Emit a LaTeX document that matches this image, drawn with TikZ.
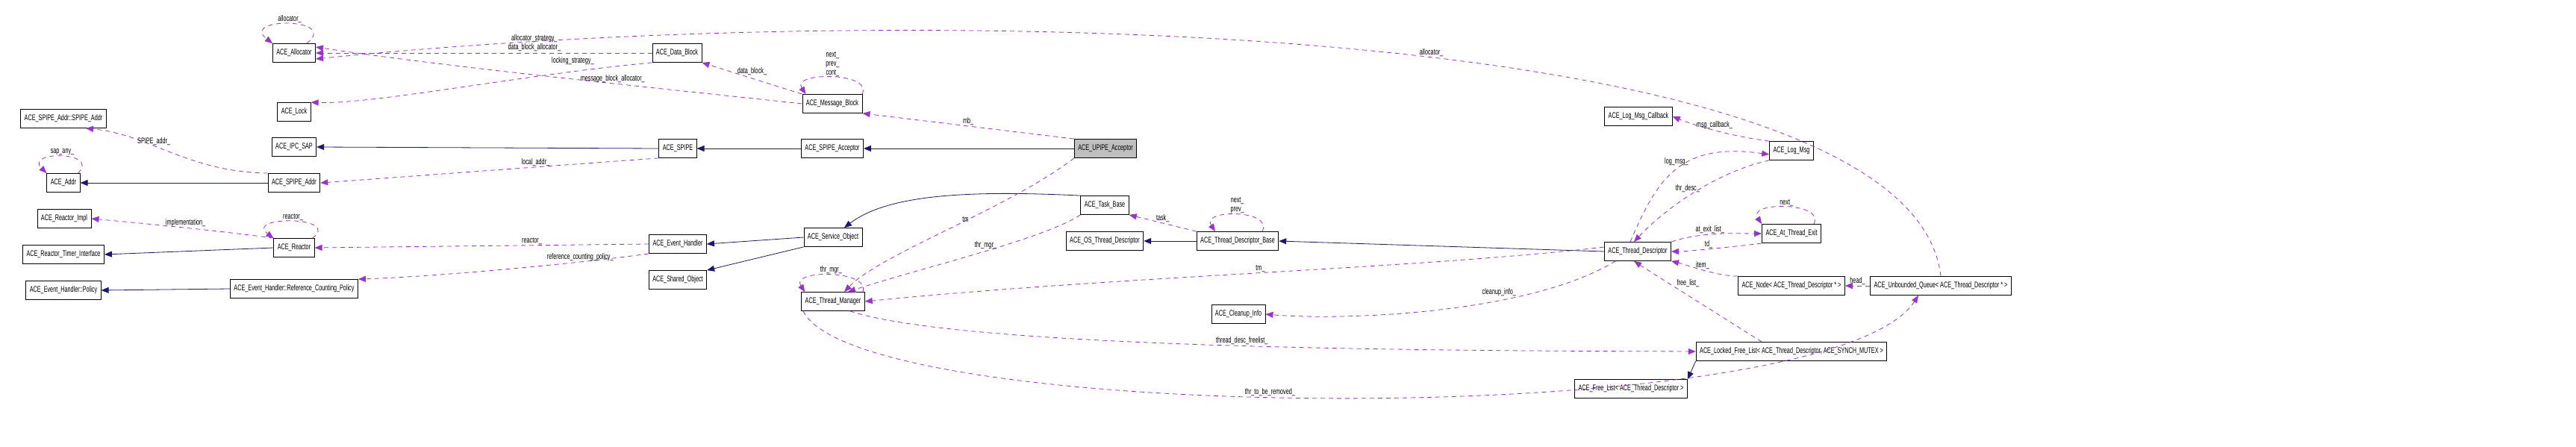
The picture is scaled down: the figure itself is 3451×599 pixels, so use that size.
\documentclass[tikz,border=0pt]{standalone}
\usepackage{fontspec}
\setmainfont{Liberation Sans}[FakeStretch=0.66]
\usetikzlibrary{arrows.meta}
\definecolor{inh}{HTML}{191970}
\definecolor{usr}{HTML}{9A32CD}
\tikzset{
  box/.style={draw, fill=white, minimum height=25, inner xsep=5, inner ysep=0, line width=0.8pt, font=\fontsize{11}{13}\selectfont},
  isa/.style={draw=inh, line width=0.8pt, -{Triangle[length=10,width=8]}, inh},
  uses/.style={draw=usr, line width=0.8pt, dash pattern=on 6pt off 5pt, -{Triangle[length=10,width=8]}, usr},
  lbl/.style={font=\fontsize{11}{12}\selectfont, inner sep=1pt, align=center, text=black}
}
\begin{document}
\begin{tikzpicture}[x=1pt,y=-1pt]
\useasboundingbox[fill=white] (0,0) rectangle (3451,599);
% nodes
\node[box] (alloc) at (394,71) {ACE\_Allocator};
\node[box] (lock) at (394,150) {ACE\_Lock};
\node[box] (spaddr2) at (85,159) {ACE\_SPIPE\_Addr::SPIPE\_Addr};
\node[box] (ipc) at (394,197) {ACE\_IPC\_SAP};
\node[box] (addr) at (85,245) {ACE\_Addr};
\node[box] (spaddr) at (394,245) {ACE\_SPIPE\_Addr};
\node[box] (rimpl) at (86,293) {ACE\_Reactor\_Impl};
\node[box] (reactor) at (394,332) {ACE\_Reactor};
\node[box] (rti) at (85,341) {ACE\_Reactor\_Timer\_Interface};
\node[box] (policy) at (85,389) {ACE\_Event\_Handler::Policy};
\node[box] (rcp) at (394,387) {ACE\_Event\_Handler::Reference\_Counting\_Policy};
\node[box] (dblock) at (907,71) {ACE\_Data\_Block};
\node[box] (mblock) at (1115,139) {ACE\_Message\_Block};
\node[box] (spipe) at (908,199) {ACE\_SPIPE};
\node[box] (spacc) at (1115,199) {ACE\_SPIPE\_Acceptor};
\node[box] (evh) at (908,327) {ACE\_Event\_Handler};
\node[box] (svc) at (1116,318) {ACE\_Service\_Object};
\node[box] (shobj) at (908,375) {ACE\_Shared\_Object};
\node[box] (tmgr) at (1116,404) {ACE\_Thread\_Manager};
\node[box, fill=black!25] (upipe) at (1481,199) {ACE\_UPIPE\_Acceptor};
\node[box] (task) at (1480,275) {ACE\_Task\_Base};
\node[box] (ostd) at (1480,323) {ACE\_OS\_Thread\_Descriptor};
\node[box] (tdb) at (1658,323) {ACE\_Thread\_Descriptor\_Base};
\node[box] (clean) at (1659,421) {ACE\_Cleanup\_Info};
\node[box] (lmcb) at (2195,156) {ACE\_Log\_Msg\_Callback};
\node[box] (lmsg) at (2400,202) {ACE\_Log\_Msg};
\node[box] (td) at (2194,337) {ACE\_Thread\_Descriptor};
\node[box] (ate) at (2400,313) {ACE\_At\_Thread\_Exit};
\node[box] (node) at (2400,383) {ACE\_Node< ACE\_Thread\_Descriptor * >};
\node[box] (uq) at (2600,383) {ACE\_Unbounded\_Queue< ACE\_Thread\_Descriptor * >};
\node[box] (lfl) at (2400,471) {ACE\_Locked\_Free\_List< ACE\_Thread\_Descriptor, ACE\_SYNCH\_MUTEX >};
\node[box] (fl) at (2185,521) {ACE\_Free\_List< ACE\_Thread\_Descriptor >};
% inheritance
\draw[isa] (spaddr) -- (addr);
\draw[isa] (spipe.west) -- (ipc.east);
\draw[isa] (spacc) -- (spipe);
\draw[isa] (upipe) -- (spacc);
\draw[isa] (reactor.west) -- (rti.east);
\draw[isa] (rcp.west) -- (policy.east);
\draw[isa] (svc.west) -- (evh.east);
\draw[isa] (svc.south west) -- (shobj.north east);
\draw[isa] (task.north west) .. controls (1300,255) and (1190,260) .. ([xshift=15]svc.north);
\draw[isa] (tdb) -- (ostd);
\draw[isa] (td.west) -- (tdb.east);
\draw[isa] (lfl.south west) -- (fl.north east);
% usage
\draw[uses] ([xshift=-12]alloc.north east) .. controls +(45,-35) and +(-45,-35) .. ([xshift=0]alloc.north west) node[lbl, pos=0.5, above] {allocator\_};
\draw[uses] (dblock.west) -- (alloc.east) node[lbl, pos=0.35, above=1pt] {allocator\_strategy\_\\data\_block\_allocator\_};
\draw[uses] (dblock.south west) .. controls (700,100) and (500,140) .. (lock.north east) node[lbl, pos=0.2, above=8pt] {locking\_strategy\_};
\draw[uses] (mblock.west) .. controls (900,120) and (600,90) .. ([yshift=8]alloc.east) node[lbl, pos=0.4, above] {message\_block\_allocator\_};
\draw[uses] (uq.north) .. controls (2560,20) and (1200,0) .. ([yshift=-8]alloc.east) node[lbl, pos=0.45, above] {allocator\_};
\draw[uses] (mblock.north west) -- (dblock.south east) node[lbl, pos=0.5, above=3pt] {data\_block\_};
\draw[uses] ([xshift=40]mblock.north) .. controls +(15,-30) and +(-20,-30) .. ([xshift=5]mblock.north west) node[lbl, pos=0.5, above] {next\_\\prev\_\\cont\_};
\draw[uses] (upipe.north west) -- (mblock.south east) node[lbl, pos=0.5, above] {mb\_};
\draw[uses] (spipe.south west) .. controls (700,225) and (500,240) .. (spaddr.east) node[lbl, pos=0.3, above] {local\_addr\_};
\draw[uses] (spaddr.north west) .. controls (250,230) and (200,180) .. ([xshift=30]spaddr2.south) node[lbl, pos=0.6, above] {SPIPE\_addr\_};
\draw[uses] ([xshift=-3]addr.north east) .. controls +(30,-30) and +(-30,-30) .. (addr.north west) node[lbl, pos=0.5, above] {sap\_any\_};
\draw[uses] (reactor.north west) .. controls (300,310) and (200,300) .. (rimpl.east) node[lbl, pos=0.5, above] {implementation\_};
\draw[uses] ([xshift=-3]reactor.north east) .. controls +(40,-30) and +(-40,-30) .. ([xshift=0]reactor.north west) node[lbl, pos=0.5, above] {reactor\_};
\draw[uses] (evh.west) -- (reactor.east) node[lbl, pos=0.35, above] {reactor\_};
\draw[uses] (evh.south west) .. controls (800,350) and (600,370) .. (rcp.north east) node[lbl, pos=0.3, above] {reference\_counting\_policy\_};
\draw[uses] (upipe.south west) .. controls (1350,280) and (1180,340) .. ([xshift=15]tmgr.north) node[lbl, pos=0.45, above right] {tm};
\draw[uses] (task.south west) .. controls (1400,320) and (1230,360) .. ([xshift=20]tmgr.north) node[lbl, pos=0.4, left=8pt] {thr\_mgr\_};
\draw[uses] ([xshift=40]tmgr.north) .. controls +(10,-30) and +(-20,-30) .. ([xshift=5]tmgr.north west) node[lbl, pos=0.5, above] {thr\_mgr\_};
\draw[uses] ([yshift=6]td.west) .. controls (1900,360) and (1500,370) .. (tmgr.east) node[lbl, pos=0.5, above] {tm\_};
\draw[uses] ([xshift=-20]tmgr.south east) .. controls (1300,470) and (2000,470) .. (lfl.west) node[lbl, pos=0.5, above] {thread\_desc\_freelist\_};
\draw[uses] ([xshift=-40]tmgr.south) .. controls (1150,570) and (2450,580) .. ([xshift=-30]uq.south) node[lbl, pos=0.45, above] {thr\_to\_be\_removed\_};
\draw[uses] (tdb.north west) -- (task.south east) node[lbl, pos=0.5, above] {task\_};
\draw[uses] ([xshift=33]tdb.north) .. controls +(15,-30) and +(-20,-30) .. ([xshift=-30]tdb.north) node[lbl, pos=0.5, above] {next\_\\prev\_};
\draw[uses] ([xshift=-30]td.south) .. controls (2050,420) and (1800,430) .. (clean.east) node[lbl, pos=0.3, above left] {cleanup\_info\_};
\draw[uses] (lmsg.north west) .. controls (2300,180) and (2250,160) .. (lmcb.east) node[lbl, pos=0.4, above] {msg\_callback\_};
\draw[uses] ([xshift=-10]td.north) .. controls (2220,240) and (2250,190) .. ([yshift=-5]lmsg.west) node[lbl, pos=0.6, left] {log\_msg\_};
\draw[uses] (lmsg.south west) .. controls (2300,230) and (2230,280) .. ([xshift=-5]td.north) node[lbl, pos=0.45, left] {thr\_desc\_};
\draw[uses] (td.north east) .. controls (2280,310) and (2330,313) .. (ate.west) node[lbl, pos=0.4, above] {at\_exit\_list\_};
\draw[uses] (ate.south west) .. controls (2330,330) and (2260,337) .. (td.east) node[lbl, pos=0.55, above] {td\_};
\draw[uses] ([xshift=30]ate.north) .. controls +(15,-30) and +(-20,-30) .. (ate.north west) node[lbl, pos=0.5, above] {next\_};
\draw[uses] (node.north west) .. controls (2300,370) and (2260,355) .. (td.south east) node[lbl, pos=0.5, above] {item\_};
\draw[uses] ([xshift=-40]lfl.north) .. controls (2300,420) and (2220,370) .. ([xshift=-5]td.south) node[lbl, pos=0.6, above right] {free\_list\_};
\draw[uses] (uq.west) -- (node.east) node[lbl, pos=0.5, above] {head\_};
\end{tikzpicture}
\end{document}
